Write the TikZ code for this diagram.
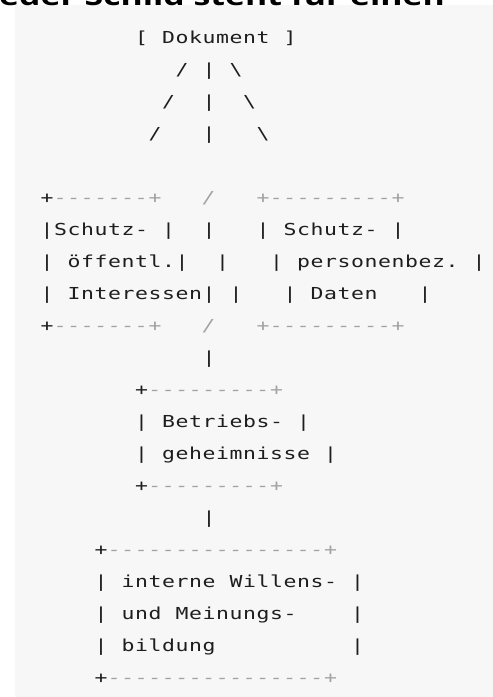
\documentclass[tikz,border=0pt]{standalone}
\usepackage{fontspec}
\usepackage{graphicx}
\newfontfamily\codefont{DejaVu Sans Mono}
\newfontfamily\headfont{Open Sans}
\definecolor{codebg}{HTML}{F7F7F7}
\definecolor{codeink}{HTML}{1E1E1E}
\definecolor{codegray}{HTML}{A3A3A3}
\newlength\cwd
\setlength\cwd{13.5pt}
\makeatletter
\newcommand\mline[1]{\@tfor\mc:=#1\do{\makebox[\cwd][c]{\scalebox{1.3}[1]{\mc}}}}
\makeatother
\newcommand\gr[1]{{\color{codegray}\itshape\mline{#1}}}
\tikzset{
  codeline/.style={anchor=base west, inner sep=0pt, outer sep=0pt, text=codeink,
    font=\codefont\fontsize{16.5}{16.5}\selectfont},
}
\begin{document}
\begin{tikzpicture}[x=1pt,y=-1pt]
\useasboundingbox (0,0) rectangle (493,697);
\fill[codebg] (15,5) rectangle (493,697);
\node[anchor=base west, inner sep=0pt, font=\headfont\bfseries\fontsize{26}{26}\selectfont, text=black] (head) at (-1,5) {\scalebox{1.3}[1]{eder Schild steht für einen}};
\def\xl{40.25}
\node[codeline] (l0) at (\xl,43) {\mline{~~~~~~~[~Dokument~]}};
\node[codeline] (l1) at (\xl,75) {\mline{~~~~~~~~~~/~|~\textbackslash}};
\node[codeline] (l2) at (\xl,107) {\mline{~~~~~~~~~/~~|~~\textbackslash}};
\node[codeline] (l3) at (\xl,139) {\mline{~~~~~~~~/~~~|~~~\textbackslash}};
\node[codeline] (l5) at (\xl,203) {\mline{+}\gr{-------+~~~/~~~+---------+}};
\node[codeline] (l6) at (\xl,235) {\mline{|Schutz-~|~~|~~~|~Schutz-~|}};
\node[codeline] (l7) at (\xl,267) {\mline{|~öffentl.|~~|~~~|~personenbez.~|}};
\node[codeline] (l8) at (\xl,299) {\mline{|~Interessen|~|~~~|~Daten~~~|}};
\node[codeline] (l9) at (\xl,331) {\mline{+}\gr{-------+~~~/~~~+---------+}};
\node[codeline] (l10) at (\xl,363) {\mline{~~~~~~~~~~~~|}};
\node[codeline] (l11) at (\xl,395) {\mline{~~~~~~~+}\gr{---------+}};
\node[codeline] (l12) at (\xl,427) {\mline{~~~~~~~|~Betriebs-~|}};
\node[codeline] (l13) at (\xl,459) {\mline{~~~~~~~|~geheimnisse~|}};
\node[codeline] (l14) at (\xl,491) {\mline{~~~~~~~+}\gr{---------+}};
\node[codeline] (l15) at (\xl,523) {\mline{~~~~~~~~~~~~|}};
\node[codeline] (l16) at (\xl,555) {\mline{~~~~+}\gr{----------------+}};
\node[codeline] (l17) at (\xl,587) {\mline{~~~~|~interne~Willens-~|}};
\node[codeline] (l18) at (\xl,619) {\mline{~~~~|~und~Meinungs-~~~~|}};
\node[codeline] (l19) at (\xl,651) {\mline{~~~~|~bildung~~~~~~~~~~|}};
\node[codeline] (l20) at (\xl,683) {\mline{~~~~+}\gr{----------------+}};
\end{tikzpicture}
\end{document}
